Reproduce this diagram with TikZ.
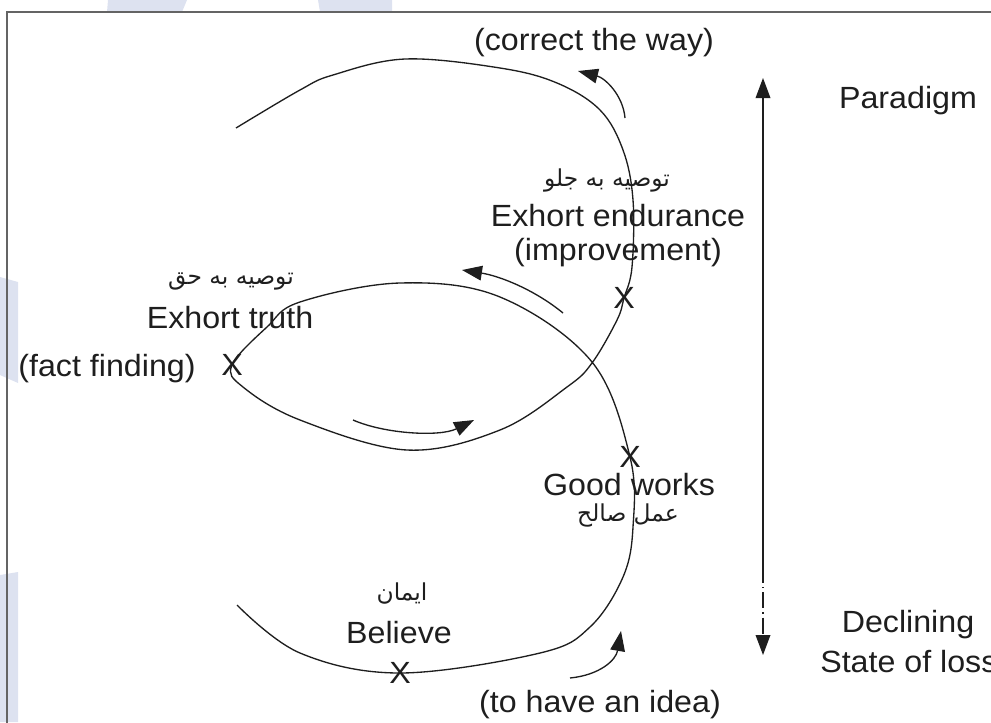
\documentclass[tikz,border=0pt]{standalone}
\usepackage{fontspec}
\setmainfont{Liberation Sans}[FakeStretch=1.05]
\newfontfamily\arabicfont[Script=Arabic]{DejaVu Sans}
\TeXXeTstate=1
\usetikzlibrary{arrows.meta}
\definecolor{wm}{RGB}{221,226,240}
\definecolor{ink}{RGB}{30,30,30}
\definecolor{framec}{RGB}{100,100,100}
\begin{document}
\begin{tikzpicture}[x=0.75pt,y=-0.75pt,
  lbl/.style={font=\fontsize{23}{26}\selectfont, text=ink, inner sep=0pt, anchor=base},
  ar/.style={font=\arabicfont\fontsize{17.5}{20}\selectfont, text=ink, inner sep=0pt, anchor=base},
  xmark/.style={font=\fontsize{23}{26}\selectfont, text=ink, inner sep=0pt},
  curve/.style={draw=ink, line width=1pt},
  tipped/.style={draw=ink, line width=1pt, -{Triangle[length=15pt,width=11pt]}}
]
\useasboundingbox (0,0) rectangle (991,722);
% watermark
\fill[wm] (108,0) -- (187,0) -- (182,12) -- (107,12) -- cycle;
\fill[wm] (318,0) -- (392,0) -- (392,12) -- (320,12) -- cycle;
\fill[wm] (0,277) -- (18,282) -- (18,383) -- (0,375) -- cycle;
\fill[wm] (0,575) -- (18,572) -- (18,722) -- (0,722) -- cycle;
% frame
\draw[framec, line width=1.1pt] (7,730) -- (7,12) -- (1000,12);

% cross marks
\node[xmark] (xbel) at (400,673) {X};
\node[xmark] (xgood) at (630,457) {X};
\node[xmark] (xfact) at (232,365) {X};
\node[xmark] (xend) at (624,298) {X};

% spiral
\draw[curve] plot[smooth, tension=0.6] coordinates {
 (237,605) (300,653) (xbel.center) (540,653) (590,627) (623,577) (633,527)
 (xgood.center) (592,362) (500,297) (400,283) (300,302) (267,327)
 (xfact.center) (243,387) (300,420) (407,450) (500,430) (567,387) (592,363)
 (617,320) (xend.center) (632,267) (633,200) (623,150) (600,110) (557,83)
 (500,68) (405,59) (333,75) (300,90) (236,128)};

% arrow arcs
\coordinate (a1s) at (625,118); \coordinate (a1e) at (578,71);
\draw[tipped] (a1s) .. controls (623,95) and (605,78) .. (a1e);
\coordinate (a2s) at (563,313); \coordinate (a2e) at (462,270);
\draw[tipped] (a2s) .. controls (535,290) and (500,276) .. (a2e);
\coordinate (a3s) at (353,420); \coordinate (a3e) at (474,420);
\draw[tipped] (a3s) .. controls (385,434) and (440,437) .. (a3e);
\coordinate (a4s) at (570,678); \coordinate (a4e) at (621,631);
\draw[tipped] (a4s) .. controls (600,675) and (616,660) .. (a4e);

% vertical arrow
\coordinate (vtop) at (763,78);
\coordinate (vmid) at (763,567);
\coordinate (vbot) at (763,655);
\draw[tipped] (vmid) -- (vtop);
\draw[tipped, dash pattern=on 12pt off 3pt on 1pt off 3pt] (vmid) -- (vbot);

% labels
\node[lbl] (correct) at (594,50) {(correct the way)};
\node[lbl] (paradigm) at (908,108) {Paradigm};
\node[ar] (arjalo) at (607,186) {\beginR توصیه به جلو\endR};
\node[lbl] (endur) at (618,226) {Exhort endurance};
\node[lbl] (improv) at (618,260) {(improvement)};
\node[ar] (arhagh) at (231,284) {\beginR توصیه به حق\endR};
\node[lbl] (truth) at (230,328) {Exhort truth};
\node[lbl] (fact) at (107,376) {(fact finding)};
\node[lbl] (good) at (629,495) {Good works};
\node[ar] (aramal) at (628,521) {\beginR عمل صالح\endR};
\node[ar] (araman) at (402,600) {\beginR ایمان\endR};
\node[lbl] (believe) at (399,643) {Believe};
\node[lbl] (idea) at (600,712) {(to have an idea)};
\node[lbl] (declin) at (908,632) {Declining};
\node[lbl, anchor=base west] (loss) at (820,672) {State of loss};
\end{tikzpicture}
\end{document}
